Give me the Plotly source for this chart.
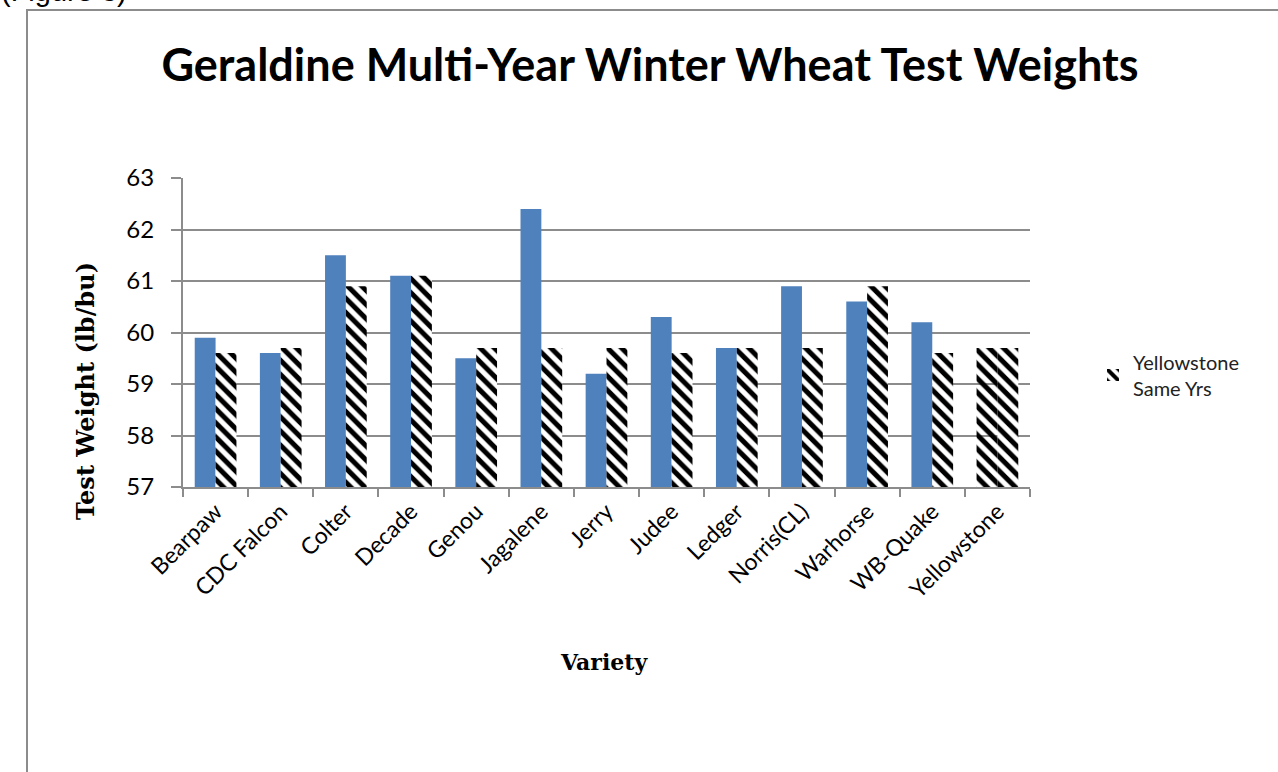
import plotly.graph_objects as go

varieties = ["Bearpaw", "CDC Falcon", "Colter", "Decade", "Genou", "Jagalene", "Jerry",
             "Judee", "Ledger", "Norris(CL)", "Warhorse", "WB-Quake", "Yellowstone"]
variety_weight = [59.9, 59.6, 61.5, 61.1, 59.5, 62.4, 59.2, 60.3, 59.7, 60.9, 60.6, 60.2, 59.7]
yellowstone_same_yrs = [59.6, 59.7, 60.9, 61.1, 59.7, 59.7, 59.7, 59.6, 59.7, 59.7, 60.9, 59.6, 59.7]
y_ticks = [57, 58, 59, 60, 61, 62, 63]

BLUE = "#4f81bd"
n = len(varieties)
first_colors = [BLUE] * (n - 1) + ["black"]
first_shapes = [""] * (n - 1) + ["\\"]

PAT = dict(fgcolor="black", bgcolor="white", size=10, solidity=0.5, fillmode="replace")

fig = go.Figure()
fig.add_trace(go.Bar(
    x=varieties, y=[v - 57 for v in variety_weight], base=57,
    name="Variety", showlegend=False,
    marker=dict(color=first_colors, line=dict(width=0),
                pattern=dict(shape=first_shapes, **PAT)),
))
fig.add_trace(go.Bar(
    x=varieties, y=[v - 57 for v in yellowstone_same_yrs], base=57,
    name="Yellowstone<br>Same Yrs",
    marker=dict(color="black", line=dict(width=0),
                pattern=dict(shape="\\", **PAT)),
))

L, R, T, B = 183, 1030, 178, 487
W = R - L
H = B - T
def px(xp):
    return (xp - L) / W
def py(yp):
    return (B - yp) / H

fig.update_layout(
    width=1278, height=772,
    margin=dict(l=L, r=1278 - R, t=T, b=772 - B),
    paper_bgcolor="white", plot_bgcolor="white",
    barmode="group", bargap=0.36, bargroupgap=0.0,
    font=dict(family="Lato, Open Sans, sans-serif", color="black"),
    title=dict(text="<b>Geraldine Multi-Year Winter Wheat Test Weights</b>",
               x=650 / 1278, xanchor="center", y=1 - 65 / 772, yanchor="middle",
               font=dict(size=45, family="Lato, Open Sans, sans-serif", color="black")),
    legend=dict(x=px(1093), y=py(375), xanchor="left", yanchor="middle",
                font=dict(size=20, family="Lato, Open Sans, sans-serif", color="#222"),
                bgcolor="rgba(0,0,0,0)", itemwidth=30),
    xaxis=dict(
        tickangle=-45, tickfont=dict(size=23, color="black"),
        showline=True, linecolor="#8c8c8c", linewidth=2,
        ticks="outside", ticklen=8, tickcolor="#8c8c8c", tickwidth=2,
        tickson="boundaries", showgrid=False,
    ),
    yaxis=dict(
        range=[57, 63], tickvals=y_ticks, tickfont=dict(size=24, color="black"),
        showline=True, linecolor="#8c8c8c", linewidth=2,
        ticks="outside", ticklen=10, tickcolor="#8c8c8c", tickwidth=2,
        ticklabelstandoff=12,
        showgrid=True, gridcolor="#8c8c8c", gridwidth=2, zeroline=False,
    ),
    annotations=[
        dict(text="<b>Test Weight (lb/bu)</b>", xref="paper", yref="paper",
             x=px(85), y=py(391), xanchor="center", yanchor="middle",
             textangle=-90, showarrow=False,
             font=dict(size=24, family="DejaVu Serif, serif", color="black")),
        dict(text="<b>Variety</b>", xref="paper", yref="paper",
             x=px(604), y=py(662), xanchor="center", yanchor="middle",
             showarrow=False,
             font=dict(size=22, family="DejaVu Serif, serif", color="black")),
        dict(text="(Figure 3)", xref="paper", yref="paper",
             x=px(-1), y=py(-9), xanchor="left", yanchor="middle",
             showarrow=False,
             font=dict(size=29, family="Liberation Sans, Arial, sans-serif", color="black")),
    ],
    shapes=[
        dict(type="rect", xref="paper", yref="paper",
             x0=px(27), x1=px(1295), y0=py(10), y1=py(800),
             line=dict(color="#8c8c8c", width=2), fillcolor="rgba(0,0,0,0)", layer="below"),
    ],
)

fig.write_html("out.html", config={"displayModeBar": False},
               post_script="document.body.style.margin='0';document.body.style.overflow='hidden';")
